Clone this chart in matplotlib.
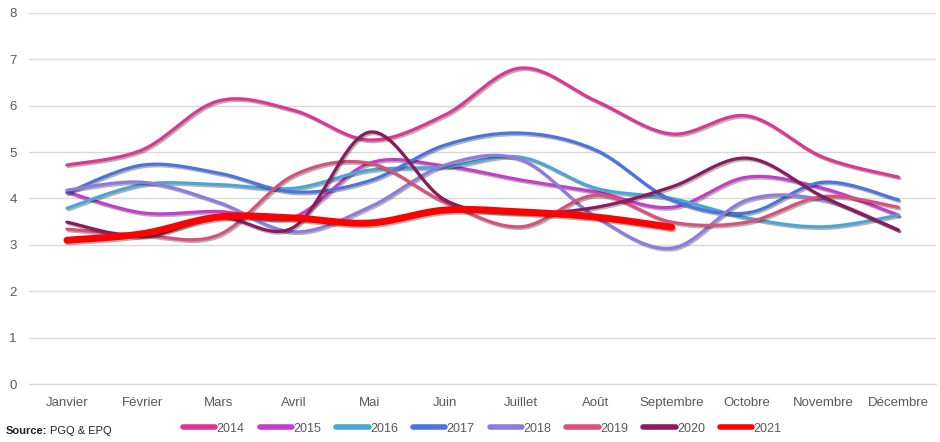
import numpy as np
import matplotlib
matplotlib.use("Agg")
import matplotlib.pyplot as plt
import matplotlib.patheffects as pe
from matplotlib.transforms import offset_copy

plt.rcParams['font.family'] = ['Liberation Sans Narrow', 'Liberation Sans', 'DejaVu Sans']

mois = ["Janvier", "Février", "Mars", "Avril", "Mai", "Juin", "Juillet",
        "Août", "Septembre", "Octobre", "Novembre", "Décembre"]

v2014 = [4.72, 5.05, 6.10, 5.90, 5.26, 5.80, 6.81, 6.10, 5.39, 5.78, 4.89, 4.46]
v2015 = [4.14, 3.69, 3.72, 3.60, 4.76, 4.70, 4.40, 4.14, 3.81, 4.46, 4.22, 3.64]
v2016 = [3.79, 4.30, 4.30, 4.22, 4.61, 4.68, 4.89, 4.22, 4.00, 3.58, 3.39, 3.64]
v2017 = [4.12, 4.72, 4.55, 4.14, 4.38, 5.15, 5.41, 5.04, 3.97, 3.69, 4.35, 3.97]
v2018 = [4.18, 4.35, 3.92, 3.28, 3.81, 4.72, 4.84, 3.60, 2.93, 3.97, 3.97, 3.32]
v2019 = [3.34, 3.21, 3.21, 4.50, 4.76, 3.92, 3.39, 4.07, 3.49, 3.49, 4.04, 3.81]
v2020 = [3.49, 3.18, 3.60, 3.38, 5.43, 3.97, 3.69, 3.81, 4.25, 4.87, 4.04, 3.32]
v2021 = [3.10, 3.24, 3.60, 3.58, 3.47, 3.75, 3.71, 3.60, 3.38]

annees = ["2014", "2015", "2016", "2017", "2018", "2019", "2020", "2021"]
series = [v2014, v2015, v2016, v2017, v2018, v2019, v2020, v2021]
couleurs = ["#DE3790", "#C63CCB", "#4BA6D8", "#4A74E2", "#8E7BE0",
            "#DA5079", "#8B1B5C", "#FF0000"]
epaisseurs = [2.3, 2.3, 2.3, 2.3, 2.3, 2.3, 2.3, 5.0]


def lisser(y, n=20):
    # courbe lissée façon Excel (Catmull-Rom)
    y = np.asarray(y, dtype=float)
    x = np.arange(len(y), dtype=float)
    px = np.concatenate([[x[0]], x, [x[-1]]])
    py = np.concatenate([[y[0]], y, [y[-1]]])
    xs, ys = [], []
    t = np.linspace(0, 1, n)
    for i in range(1, len(px) - 2):
        for p, out in ((px, xs), (py, ys)):
            p0, p1, p2, p3 = p[i - 1], p[i], p[i + 1], p[i + 2]
            m1 = (p2 - p0) / 2
            m2 = (p3 - p1) / 2
            c = ((2 * t**3 - 3 * t**2 + 1) * p1 + (t**3 - 2 * t**2 + t) * m1
                 + (-2 * t**3 + 3 * t**2) * p2 + (t**3 - t**2) * m2)
            out.extend(c)
    return np.array(xs), np.array(ys)


fig = plt.figure(figsize=(9.4, 4.42), dpi=100)
ax = fig.add_axes([0.031, 0.131, 0.965, 0.840])

for nom, vals, col, lw in zip(annees, series, couleurs, epaisseurs):
    xs, ys = lisser(vals)
    ax.plot(xs, ys, color=col, lw=lw, label=nom, solid_capstyle='round',
            path_effects=[pe.SimpleLineShadow(offset=(1, -1.2), alpha=0.3),
                          pe.Normal()])

ax.set_xlim(-0.5, 11.5)
ax.set_ylim(0, 8)
ax.set_yticks(range(0, 9))
ax.set_xticks(range(12))
ax.set_xticklabels(mois)
ax.grid(axis='y', color='#D9D9D9', lw=1)
ax.set_axisbelow(True)
for s in ['top', 'right', 'left']:
    ax.spines[s].set_visible(False)
ax.spines['bottom'].set_color('#D9D9D9')
ax.tick_params(length=0, labelsize=9.5, colors='#595959')
ax.tick_params(axis='y', pad=9)
ax.tick_params(axis='x', pad=9)

leg = fig.legend(loc='center', bbox_to_anchor=(0.513, 0.03), ncol=8, frameon=False,
                 fontsize=9, handlelength=2.6, handletextpad=0.1, columnspacing=1.2)
for h in leg.get_lines():
    h.set_linewidth(4)
    h.set_path_effects([])
for t in leg.get_texts():
    t.set_color('#595959')

src = fig.text(0.006, 0.018, "Source:", fontsize=8, fontweight='bold', color='#222222')
fig.canvas.draw()
larg = src.get_window_extent().width
fig.text(0.006, 0.018, "PGQ & EPQ", fontsize=8, color='#222222',
         transform=offset_copy(fig.transFigure, fig=fig, x=larg + 3, units='dots'))

fig.savefig("out.png", dpi=100)
